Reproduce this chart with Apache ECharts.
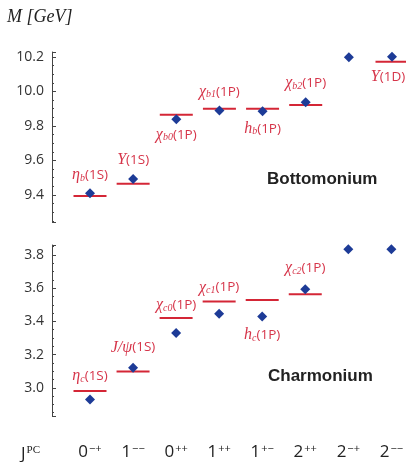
<!DOCTYPE html>
<html>
<head>
<meta charset="utf-8">
<script src="https://cdn.jsdelivr.net/npm/echarts@6/dist/echarts.min.js"></script>
<style>html,body{margin:0;padding:0;background:#fff}#container{width:406px;height:462px}</style>
</head>
<body>
<div id="container"></div>
<script>
// J^PC categories
var jpc = ['0-+', '1--', '0++', '1++', '1+-', '2++', '2-+', '2--'];

// bottomonium: experiment (red bars) and lattice (blue diamonds)
var bbExp = [9.394, 9.465, 9.865, 9.900, 9.900, 9.921, null, 10.172];
var bbLat = [9.410, 9.493, 9.839, 9.889, 9.885, 9.937, 10.198, 10.202];
var bbNames = ['{g|η}{s|b}{n|(1S)}', '{g|Υ}{n|(1S)}', '{g|χ}{s|b0}{n|(1P)}', '{g|χ}{s|b1}{n|(1P)}',
               '{g|h}{s|b}{n|(1P)}', '{g|χ}{s|b2}{n|(1P)}', '', '{g|Υ}{n|(1D)}'];

// charmonium
var ccExp = [2.980, 3.098, 3.420, 3.519, 3.528, 3.564, null, null];
var ccLat = [2.930, 3.120, 3.330, 3.446, 3.430, 3.594, 3.834, 3.834];
var ccNames = ['{g|η}{s|c}{n|(1S)}', '{g|J/ψ}{n|(1S)}', '{g|χ}{s|c0}{n|(1P)}', '{g|χ}{s|c1}{n|(1P)}',
               '{g|h}{s|c}{n|(1P)}', '{g|χ}{s|c2}{n|(1P)}', '', ''];

// tick labels
var bbTicks = [9.4, 9.6, 9.8, 10.0, 10.2];
var ccTicks = [3.0, 3.2, 3.4, 3.6, 3.8];

// label placement (side, distance px, x shift px)
var bbLabelPos = [['top', 12, 0], ['top', 15, 0], ['bottom', 11, 0], ['top', 8, 0], ['bottom', 11, 0], ['top', 13, 0], null, ['bottom', 6, -4]];
var ccLabelPos = [['top', 6, 0], ['top', 15, 0], ['top', 4, 0], ['top', 5, 0], ['bottom', 26, 0], ['top', 17, 0], null, null];

var RED = '#d42636', LABEL_RED = '#d6354a', BLUE = '#1d3b97';

var richStyle = {
    g: { fontFamily: 'Liberation Serif', fontStyle: 'italic', fontSize: 16, color: LABEL_RED },
    s: { fontFamily: 'Liberation Serif', fontStyle: 'italic', fontSize: 10, color: LABEL_RED, padding: [6, 0, 0, 0] },
    n: { fontFamily: 'Open Sans', fontSize: 13.5, color: LABEL_RED }
};

function expData(vals, names, pos) {
    var out = [];
    vals.forEach(function (v, i) {
        if (v == null) return;
        out.push({
            value: [i, v],
            label: {
                show: true,
                formatter: names[i],
                position: pos[i][0],
                distance: pos[i][1],
                offset: [pos[i][2], 0],
                rich: richStyle
            }
        });
    });
    return out;
}

function latData(vals) {
    return vals.map(function (v, i) { return [i, v]; });
}

function jpcLabel(s) {
    return '{n|' + s.charAt(0) + '}{p|' + s.slice(1).replace(/-/g, '−') + '}';
}

function yAxisFor(idx, min, max, ticks) {
    return {
        type: 'value', gridIndex: idx, min: min, max: max,
        offset: 38,
        splitLine: { show: false },
        axisLine: { show: true, lineStyle: { color: '#444', width: 1 } },
        axisTick: { show: true, inside: true, length: 4, lineStyle: { color: '#444' } },
        minorTick: { show: true, splitNumber: 4, length: 2, lineStyle: { color: '#444' } },
        axisLabel: {
            margin: 8, fontFamily: 'Open Sans', fontSize: 14, color: '#333',
            showMinLabel: false, showMaxLabel: false,
            formatter: function (v) {
                for (var k = 0; k < ticks.length; k++) {
                    if (Math.abs(ticks[k] - v) < 1e-6) return ticks[k].toFixed(1);
                }
                return '';
            }
        }
    };
}

function xAxisFor(idx, showLabels) {
    return {
        type: 'category', gridIndex: idx, data: jpc, boundaryGap: false,
        axisLine: { show: false }, axisTick: { show: false }, splitLine: { show: false },
        axisLabel: {
            show: showLabels, margin: 27, interval: 0,
            formatter: jpcLabel,
            rich: {
                n: { fontFamily: 'Open Sans', fontSize: 17, color: '#222' },
                p: { fontFamily: 'Open Sans', fontSize: 11, color: '#222', padding: [0, 0, 8, 1] }
            }
        }
    };
}

var myChart = echarts.init(document.getElementById('container'));
var option = {
    animation: false,
    title: [
        { text: 'M [GeV]', left: 2, top: 3, textStyle: { fontFamily: 'Liberation Serif', fontStyle: 'italic', fontWeight: 'normal', fontSize: 18, color: '#222' } },
        { text: 'Bottomonium', left: 262, top: 166, textStyle: { fontFamily: 'Liberation Sans', fontWeight: 'bold', fontSize: 17, color: '#222' } },
        { text: 'Charmonium', left: 263, top: 363, textStyle: { fontFamily: 'Liberation Sans', fontWeight: 'bold', fontSize: 17, color: '#222' } },
        { text: '{a|J}{b|PC}', left: 16, top: 440, textStyle: { fontWeight: 'normal', rich: {
            a: { fontFamily: 'Open Sans', fontWeight: 'normal', fontSize: 17, color: '#222' },
            b: { fontFamily: 'Liberation Serif', fontWeight: 'normal', fontSize: 11, color: '#222', padding: [0, 0, 8, 1] }
        } } }
    ],
    grid: [
        { left: 90, right: 14, top: 52, height: 170 },
        { left: 90, right: 14, top: 245, height: 171 }
    ],
    xAxis: [xAxisFor(0, false), xAxisFor(1, true)],
    yAxis: [yAxisFor(0, 9.243, 10.229, bbTicks), yAxisFor(1, 2.83, 3.86, ccTicks)],
    series: [
        { type: 'scatter', xAxisIndex: 0, yAxisIndex: 0, symbol: 'rect', symbolSize: [33, 2],
          itemStyle: { color: RED, opacity: 1 }, data: expData(bbExp, bbNames, bbLabelPos), z: 2 },
        { type: 'scatter', xAxisIndex: 0, yAxisIndex: 0, symbol: 'diamond', symbolSize: [10, 10],
          itemStyle: { color: BLUE, opacity: 1 }, data: latData(bbLat), z: 3 },
        { type: 'scatter', xAxisIndex: 1, yAxisIndex: 1, symbol: 'rect', symbolSize: [33, 2],
          itemStyle: { color: RED, opacity: 1 }, data: expData(ccExp, ccNames, ccLabelPos), z: 2 },
        { type: 'scatter', xAxisIndex: 1, yAxisIndex: 1, symbol: 'diamond', symbolSize: [10, 10],
          itemStyle: { color: BLUE, opacity: 1 }, data: latData(ccLat), z: 3 }
    ]
};
myChart.setOption(option);
</script>
</body>
</html>
